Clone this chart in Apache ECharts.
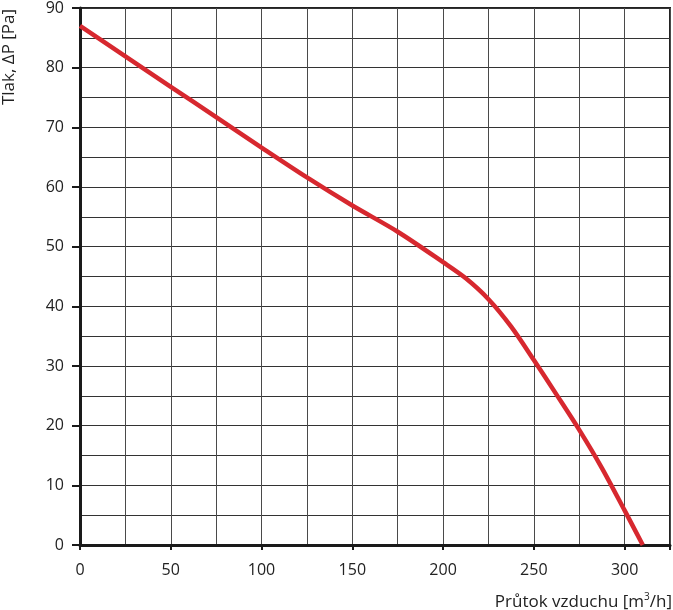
<!DOCTYPE html>
<html>
<head>
<meta charset="utf-8">
<script src="https://cdn.jsdelivr.net/npm/echarts@6/dist/echarts.min.js"></script>
<style>
html,body{margin:0;padding:0;background:#fff;}
#c{width:673px;height:610px;}
</style>
</head>
<body>
<div id="c"></div>
<script>
// Data
const flow = [0, 25, 50, 75, 100, 125, 150, 175, 200, 212.5, 225, 237.5, 250, 262.5, 275, 287.5, 300, 310];
const pressure = [87, 81.9, 76.8, 71.7, 66.6, 61.6, 56.9, 52.5, 47.4, 44.7, 41.2, 36.6, 31.0, 25.2, 19.3, 12.9, 5.8, 0];
const xTicks = [0, 50, 100, 150, 200, 250, 300];
const yTicks = [0, 10, 20, 30, 40, 50, 60, 70, 80, 90];
const xName = 'Průtok vzduchu [m{sup|3}/h]';
const yName = 'Tlak, ΔP [Pa]';

const FONT = '"Open Sans", sans-serif';
const chart = echarts.init(document.getElementById('c'), null, {renderer: 'canvas'});
const curve = flow.map((x, i) => [x, pressure[i]]);

chart.setOption({
  animation: false,
  backgroundColor: '#fff',
  grid: {left: 80, right: 1, top: 6, bottom: 65, show: true, borderColor: '#222', borderWidth: 2, backgroundColor: 'transparent'},
  xAxis: [{
    type: 'value', min: 0, max: 325, interval: 25,
    axisLine: {show: true, lineStyle: {color: '#1a1a1a', width: 3}},
    axisTick: {show: false},
    axisLabel: {
      margin: 17, color: '#222', fontSize: 16, fontFamily: FONT,
      formatter: v => xTicks.includes(v) ? String(v) : ''
    },
    splitLine: {show: true, lineStyle: {color: '#4a4a4a', width: 1}}
  }, {
    type: 'value', min: 0, max: 325, interval: 50, position: 'bottom',
    axisLine: {show: false},
    axisTick: {show: true, length: 5, lineStyle: {color: '#1a1a1a', width: 2}},
    axisLabel: {show: false},
    splitLine: {show: false}
  }],
  yAxis: [{
    type: 'value', min: 0, max: 90, interval: 5,
    axisLine: {show: true, lineStyle: {color: '#1a1a1a', width: 3}},
    axisTick: {show: false},
    axisLabel: {
      margin: 16, color: '#222', fontSize: 16, fontFamily: FONT,
      formatter: v => yTicks.includes(v) ? String(v) : ''
    },
    splitLine: {show: true, lineStyle: {color: '#333', width: 1}}
  }, {
    type: 'value', min: 0, max: 90, interval: 10, position: 'left',
    axisLine: {show: false},
    axisTick: {show: true, length: 8, lineStyle: {color: '#1a1a1a', width: 2}},
    axisLabel: {show: false},
    splitLine: {show: false}
  }],
  graphic: [{
    type: 'text', x: 9, y: 57, rotation: Math.PI / 2,
    style: {text: yName, align: 'center', verticalAlign: 'middle', font: '17px ' + FONT, fill: '#222'}
  }, {
    type: 'text', x: 672, y: 602,
    style: {
      text: xName, align: 'right', verticalAlign: 'middle', font: '17px ' + FONT, fill: '#222',
      rich: {sup: {fontSize: 10, fontFamily: FONT, verticalAlign: 'top', padding: [0, 0, 10, 0], fill: '#222'}}
    }
  }],
  series: [{
    type: 'line', data: curve, xAxisIndex: 0, yAxisIndex: 0,
    smooth: 0.3, showSymbol: false, clip: false, z: 10,
    lineStyle: {color: '#d7282f', width: 4.5}
  }]
});
</script>
</body>
</html>
